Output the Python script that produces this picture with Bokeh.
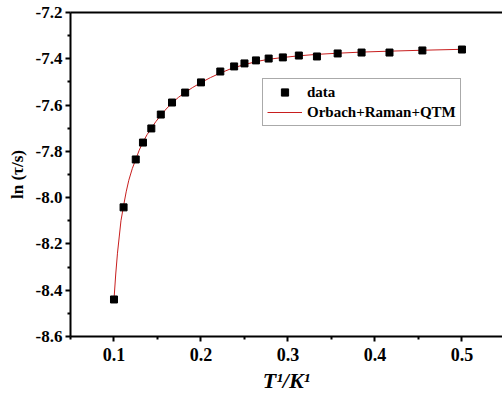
from bokeh.plotting import figure
from bokeh.models import Range1d, LinearAxis, FixedTicker, Legend, LegendItem, ColumnDataSource, PrintfTickFormatter
from bokeh.embed import file_html
from bokeh.resources import INLINE

# data: inverse temperature (1/K) and ln(tau/s)
inv_T = [0.100, 0.111, 0.125, 0.1333, 0.1429, 0.1538, 0.1667, 0.1818, 0.200, 0.2222,
         0.2381, 0.250, 0.2632, 0.2778, 0.2941, 0.3125, 0.3333, 0.3571, 0.3846, 0.4167,
         0.4545, 0.500]
ln_tau = [-8.44, -8.042, -7.835, -7.762, -7.701, -7.641, -7.589, -7.546, -7.502, -7.455,
          -7.433, -7.420, -7.407, -7.399, -7.394, -7.386, -7.390, -7.377, -7.373, -7.373,
          -7.364, -7.360]

# fitted curve (Orbach+Raman+QTM)
fit_x = [0.100, 0.102, 0.104, 0.106, 0.108, 0.111, 0.114, 0.117, 0.121, 0.125, 0.129,
         0.133, 0.138, 0.143, 0.148, 0.154, 0.160, 0.167, 0.174, 0.182, 0.190, 0.200,
         0.211, 0.222, 0.235, 0.250, 0.265, 0.278, 0.295, 0.313, 0.333, 0.357, 0.385,
         0.417, 0.455, 0.500]
fit_y = [-8.44, -8.33, -8.24, -8.17, -8.10, -8.035, -7.975, -7.925, -7.875, -7.835, -7.795,
         -7.762, -7.728, -7.700, -7.672, -7.643, -7.617, -7.590, -7.567, -7.545, -7.525, -7.503,
         -7.481, -7.462, -7.442, -7.425, -7.411, -7.402, -7.394, -7.387, -7.381, -7.376, -7.371,
         -7.367, -7.363, -7.359]

x_ticks = [0.1, 0.2, 0.3, 0.4, 0.5]
x_minor = [0.05, 0.15, 0.25, 0.35, 0.45]
y_ticks = [-8.6, -8.4, -8.2, -8.0, -7.8, -7.6, -7.4, -7.2]
y_minor = [-8.5, -8.3, -8.1, -7.9, -7.7, -7.5, -7.3]

FONT = "Liberation Serif"

p = figure(width=502, height=403, output_backend="svg", toolbar_location=None,
           x_range=Range1d(0.05, 0.5466), y_range=Range1d(-8.6, -7.2),
           min_border_left=70, min_border_right=0, min_border_top=12, min_border_bottom=67)
p.background_fill_color = "white"
p.border_fill_color = "white"
p.outline_line_color = None
p.xgrid.visible = False
p.ygrid.visible = False

src = ColumnDataSource(dict(x=inv_T, y=ln_tau))
fsrc = ColumnDataSource(dict(x=fit_x, y=fit_y))

r_fit = p.line("x", "y", source=fsrc, line_color="#c81e1e", line_width=1)
r_data = p.scatter("x", "y", source=src, marker="square", size=7,
                   fill_color="black", line_color="black")

xa = p.xaxis[0]
ya = p.yaxis[0]
xa.ticker = FixedTicker(ticks=x_ticks, minor_ticks=x_minor)
ya.ticker = FixedTicker(ticks=y_ticks, minor_ticks=y_minor)
xa.formatter = PrintfTickFormatter(format="%.1f")
ya.formatter = PrintfTickFormatter(format="%.1f")
for ax in (xa, ya):
    ax.axis_line_width = 2
    ax.axis_line_color = "black"
    ax.major_tick_line_width = 2
    ax.minor_tick_line_width = 2
    ax.major_tick_in = 0
    ax.minor_tick_in = 0
    ax.major_label_text_font = FONT
    ax.major_label_text_font_style = "bold"
    ax.major_label_text_color = "black"
    ax.axis_label_text_font = FONT
    ax.axis_label_text_color = "black"

xa.major_tick_out = 5
xa.minor_tick_out = 3
ya.major_tick_out = 5
ya.minor_tick_out = 3
xa.major_label_text_font_size = "18px"
ya.major_label_text_font_size = "17px"
xa.major_label_standoff = 6
ya.major_label_standoff = 3

xa.axis_label = "T¹/K¹"
xa.axis_label_text_font_style = "bold italic"
xa.axis_label_text_font_size = "22px"
xa.axis_label_standoff = 4

ya.axis_label = "ln (τ/s)"
ya.axis_label_text_font_style = "bold"
ya.axis_label_text_font_size = "17px"
ya.axis_label_standoff = 6

top = LinearAxis(ticker=FixedTicker(ticks=[]), axis_line_width=2, axis_line_color="black",
                 major_tick_line_color=None, minor_tick_line_color=None,
                 major_label_text_font_size="0px")
p.add_layout(top, "above")

legend = Legend(items=[LegendItem(label="data", renderers=[r_data]),
                       LegendItem(label="Orbach+Raman+QTM", renderers=[r_fit])],
                location=(192, 210), orientation="vertical",
                label_text_font=FONT, label_text_font_style="bold", label_text_font_size="15px",
                label_text_color="black",
                border_line_color="#555555", border_line_width=1,
                background_fill_color="white", background_fill_alpha=1,
                padding=4, spacing=2, margin=0, glyph_width=35, glyph_height=18,
                label_height=18, label_standoff=5)
p.add_layout(legend)

open("out.html", "w").write(file_html(p, INLINE))
